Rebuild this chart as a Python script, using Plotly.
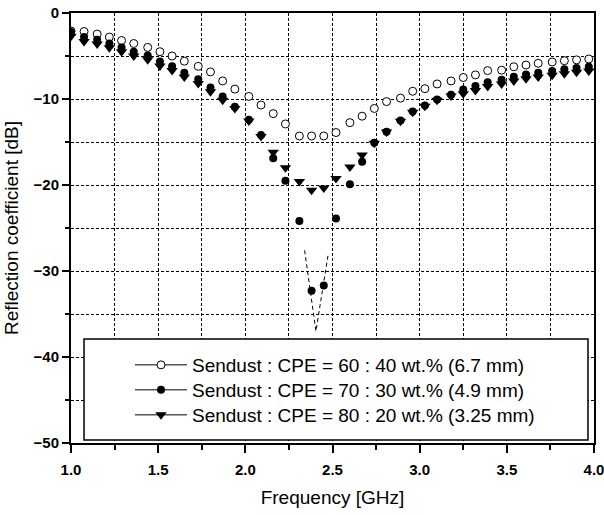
import plotly.graph_objects as go

# Frequencies (GHz)
freq = [1.00, 1.075, 1.15, 1.22, 1.29, 1.36, 1.44, 1.51, 1.58, 1.65, 1.73, 1.80, 1.87,
        1.94, 2.02, 2.09, 2.16, 2.23, 2.31, 2.38, 2.45, 2.52, 2.60, 2.67, 2.74, 2.81,
        2.89, 2.96, 3.03, 3.10, 3.18, 3.25, 3.32, 3.39, 3.47, 3.54, 3.61, 3.68, 3.76,
        3.83, 3.90, 3.97]

# Sendust : CPE = 60 : 40 (open circles)
rl_60 = [-2.1, -2.15, -2.45, -2.8, -3.2, -3.55, -4.0, -4.5, -5.0, -5.6, -6.2, -6.85, -7.9,
         -8.85, -9.7, -10.7, -11.7, -12.9, -14.3, -14.3, -14.3, -13.9, -12.75, -12.0, -11.1,
         -10.3, -9.9, -9.1, -8.8, -8.25, -7.9, -7.5, -7.2, -6.7, -6.65, -6.25, -6.05, -5.85,
         -5.7, -5.55, -5.45, -5.35]

# Sendust : CPE = 70 : 30 (filled circles)
rl_70 = [-2.2, -2.8, -3.1, -3.55, -4.0, -4.5, -4.95, -5.65, -6.2, -6.95, -7.7, -8.65, -9.7,
         -10.9, -12.4, -14.2, -16.9, -19.5, -24.2, -32.3, -31.7, -23.9, -19.9, -17.3, -15.1,
         -13.8, -12.5, -11.45, -10.75, -10.05, -9.5, -8.9, -8.5, -8.05, -7.75, -7.4, -7.15,
         -6.95, -6.75, -6.55, -6.4, -6.25]

# Sendust : CPE = 80 : 20 (filled down triangles)
rl_80 = [-2.7, -3.3, -3.6, -4.05, -4.5, -5.0, -5.45, -6.15, -6.7, -7.45, -8.2, -9.15, -10.15,
         -11.1, -12.55, -14.35, -16.2, -18.0, -19.6, -20.6, -20.35, -19.25, -17.9, -16.5, -15.15,
         -13.85, -12.6, -11.55, -10.85, -10.15, -9.65, -9.4, -9.0, -8.55, -8.25, -7.9, -7.65,
         -7.45, -7.25, -7.05, -6.9, -6.75]

# dashed guide through the 70:30 absorption peak
dip_freq = [2.34, 2.405, 2.475]
dip_rl = [-27.6, -37.0, -28.1]

names = ["Sendust : CPE = 60 : 40 wt.% (6.7 mm)",
         "Sendust : CPE = 70 : 30 wt.% (4.9 mm)",
         "Sendust : CPE = 80 : 20 wt.% (3.25 mm)"]

FONT = "Liberation Sans, Arial, sans-serif"

circ_open = dict(symbol="circle", size=8, color="white", line=dict(color="black", width=1))
circ_fill = dict(symbol="circle", size=8, color="black", line=dict(color="black", width=0))
tri_fill = dict(symbol="triangle-down", size=10, color="black", line=dict(color="black", width=0))

fig = go.Figure()
fig.add_trace(go.Scatter(x=dip_freq, y=dip_rl, mode="lines",
                         line=dict(color="black", width=1, dash="4px,3px"), showlegend=False))
fig.add_trace(go.Scatter(x=freq, y=rl_60, mode="markers", marker=circ_open, showlegend=False))
fig.add_trace(go.Scatter(x=freq, y=rl_70, mode="markers", marker=circ_fill, showlegend=False))
fig.add_trace(go.Scatter(x=freq, y=rl_80, mode="markers", marker=tri_fill, showlegend=False))

# legend entries (line + marker symbols)
for nm, mk, lg in zip(names, [circ_open, circ_fill, tri_fill], ["legend", "legend2", "legend3"]):
    fig.add_trace(go.Scatter(x=[None], y=[None], mode="lines+markers", name=nm, marker=mk,
                             line=dict(color="black", width=1), legend=lg, showlegend=True))

grid = dict(showgrid=True, gridcolor="black", gridwidth=1, griddash="3px,2px")

fig.update_xaxes(range=[1, 4], tick0=1, dtick=0.5, tickformat=".1f", automargin=False,
                 ticklabeloverflow="allow",
                 ticks="outside", ticklen=8, tickwidth=1.5, tickcolor="black",
                 showline=True, linewidth=2, linecolor="black", mirror=True, zeroline=False,
                 tickfont=dict(family=FONT, size=15, color="black", weight="bold"),
                 ticklabelstandoff=4,
                 title=dict(text="Frequency [GHz]", font=dict(family=FONT, size=19, color="black"),
                            standoff=14),
                 minor=dict(dtick=0.25, ticks="outside", ticklen=5, tickcolor="black", **grid),
                 **grid)
fig.update_yaxes(range=[-50, 0], tick0=0, dtick=10, automargin=False,
                 ticklabeloverflow="allow",
                 ticks="outside", ticklen=7, tickwidth=1.5, tickcolor="black",
                 showline=True, linewidth=2, linecolor="black", mirror=True, zeroline=False,
                 tickfont=dict(family=FONT, size=15, color="black", weight="bold"),
                 title=dict(text="Reflection coefficient [dB]", font=dict(family=FONT, size=19, color="black"),
                            standoff=10),
                 minor=dict(dtick=5, ticks="outside", ticklen=4, tickcolor="black", **grid),
                 **grid)

# legend frame
fig.add_shape(type="rect", xref="paper", yref="paper", x0=0.0249, x1=0.9885, y0=0.007, y1=0.2419,
              line=dict(color="black", width=1.5), fillcolor="white", layer="above")

leg_common = dict(x=0.1128, xanchor="left", yanchor="middle", bgcolor="rgba(0,0,0,0)",
                  borderwidth=0, itemwidth=52,
                  font=dict(family=FONT, size=19, color="black"))
fig.update_layout(
    legend=dict(y=0.1814, **leg_common),
    legend2=dict(y=0.1233, **leg_common),
    legend3=dict(y=0.0651, **leg_common),
)

fig.update_layout(width=604, height=515, margin=dict(l=71, r=10, t=13, b=72, autoexpand=False),
                  plot_bgcolor="white", paper_bgcolor="white",
                  font=dict(family=FONT, color="black"))

fig.write_html("out.html", config={"displayModeBar": False},
               post_script="document.body.style.margin='0';document.body.style.overflow='hidden';")
